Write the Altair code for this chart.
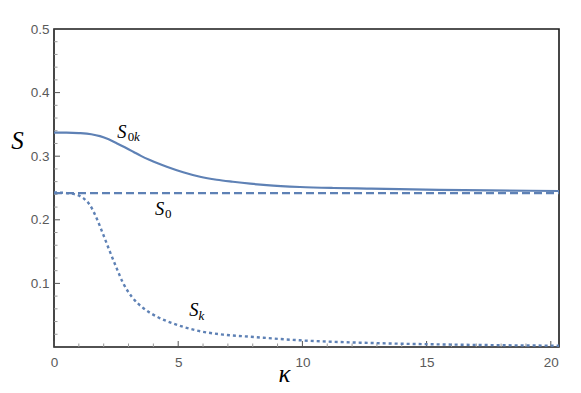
import altair as alt
import pandas as pd

# ---- data ----
k_0k = [0, 0.5, 1.0, 1.5, 1.85, 2.2, 2.52, 2.85, 3.19, 3.5, 3.86, 4.2, 4.54, 5.2, 5.88,
        6.55, 7.2, 7.9, 8.56, 9.9, 11.25, 12.6, 13.9, 15.5, 17.5, 20.33]
s_0k = [0.337, 0.337, 0.3363, 0.3345, 0.3315, 0.3265, 0.3205, 0.314, 0.307, 0.3005, 0.294,
        0.2885, 0.2835, 0.2748, 0.2677, 0.263, 0.2598, 0.2568, 0.2545, 0.2516, 0.2500,
        0.2490, 0.2481, 0.2472, 0.2463, 0.2453]

k_0 = [0, 20.33]
s_0 = [0.242, 0.242]

k_k = [0, 0.5, 0.85, 1.18, 1.45, 1.72, 1.99, 2.25, 2.52, 2.79, 3.13, 3.6, 4.13, 4.8, 5.74,
       6.8, 7.9, 9.9, 12, 13.9, 16, 18, 20.33]
s_k = [0.243, 0.242, 0.240, 0.234, 0.223, 0.202, 0.176, 0.150, 0.124, 0.100, 0.079, 0.061,
       0.048, 0.037, 0.026, 0.0195, 0.0162, 0.0105, 0.0072, 0.0052, 0.0038, 0.0028, 0.002]

x_major = [0, 5, 10, 15, 20]
x_minor = [1, 2, 3, 4, 6, 7, 8, 9, 11, 12, 13, 14, 16, 17, 18, 19]
y_major = [0.1, 0.2, 0.3, 0.4, 0.5]
y_minor = [0.02, 0.04, 0.06, 0.08, 0.12, 0.14, 0.16, 0.18, 0.22, 0.24, 0.26, 0.28,
           0.32, 0.34, 0.36, 0.38, 0.42, 0.44, 0.46, 0.48]

# series labels: main letter, upright subscript, italic subscript (k, S positions)
lab_S_text = ["S", "S", "S"]
lab_S_k = [2.55, 4.07, 5.44]
lab_S_s = [0.328, 0.2075, 0.0487]
lab_up_text = ["0", "0"]
lab_up_k = [2.97, 4.47]
lab_up_s = [0.3244, 0.2028]
lab_it_text = ["k", "k"]
lab_it_k = [3.22, 5.82]
lab_it_s = [0.3244, 0.0425]

W, H = 505, 318
BLUE = "#5E81B5"

xs = alt.Scale(domain=[0, 20.33], nice=False, zero=False)
ys = alt.Scale(domain=[0, 0.5], nice=False, zero=False)

xax = alt.Axis(values=x_major, ticks=False, domain=False, grid=False, labelFontSize=13.5,
               labelColor="#5a5a5a", labelFont="Liberation Sans", labelPadding=8,
               labelFlush=False, title="κ", titleFont="Liberation Serif",
               titleFontStyle="italic", titleFontWeight="normal", titleFontSize=25,
               titleColor="black", titleX=230, titleY=34, titleAlign="center",
               titleBaseline="alphabetic")
yax = alt.Axis(values=y_major, format=".1f", ticks=False, domain=False, grid=False,
               labelFontSize=13.5, labelColor="#5a5a5a", labelFont="Liberation Sans",
               labelPadding=5, labelFlush=False, title="S", titleFont="Liberation Serif",
               titleFontStyle="italic", titleFontWeight="normal", titleFontSize=25,
               titleColor="black", titleAngle=0, titleX=-37, titleY=119,
               titleAlign="center", titleBaseline="alphabetic")

df0k = pd.DataFrame({"k": k_0k, "s": s_0k})
df0 = pd.DataFrame({"k": k_0, "s": s_0})
dfk = pd.DataFrame({"k": k_k, "s": s_k})

l0k = alt.Chart(df0k).mark_line(color=BLUE, strokeWidth=2.2, interpolate="monotone", clip=True).encode(
    x=alt.X("k:Q", scale=xs, axis=xax), y=alt.Y("s:Q", scale=ys, axis=yax))
l0 = alt.Chart(df0).mark_line(color=BLUE, strokeWidth=2.2, strokeDash=[8, 4], clip=True).encode(
    x=alt.X("k:Q", scale=xs), y=alt.Y("s:Q", scale=ys))
lk = alt.Chart(dfk).mark_line(color=BLUE, strokeWidth=2.4, strokeDash=[3, 3],
                              interpolate="monotone", clip=True).encode(
    x=alt.X("k:Q", scale=xs), y=alt.Y("s:Q", scale=ys))

tick_col = "#555555"
xt_major = alt.Chart(pd.DataFrame({"k": x_major})).mark_rule(color=tick_col, strokeWidth=1).encode(
    x=alt.X("k:Q", scale=xs), y=alt.value(H), y2=alt.value(H - 6))
xt_minor = alt.Chart(pd.DataFrame({"k": x_minor})).mark_rule(color="#999999", strokeWidth=1).encode(
    x=alt.X("k:Q", scale=xs), y=alt.value(H), y2=alt.value(H - 3.5))
yt_major = alt.Chart(pd.DataFrame({"s": y_major})).mark_rule(color=tick_col, strokeWidth=1).encode(
    y=alt.Y("s:Q", scale=ys), x=alt.value(0), x2=alt.value(6))
yt_minor = alt.Chart(pd.DataFrame({"s": y_minor})).mark_rule(color="#999999", strokeWidth=1).encode(
    y=alt.Y("s:Q", scale=ys), x=alt.value(0), x2=alt.value(3.5))

tS = alt.Chart(pd.DataFrame({"k": lab_S_k, "s": lab_S_s, "t": lab_S_text})).mark_text(
    font="Liberation Serif", fontStyle="italic", fontSize=18.5, align="left",
    baseline="alphabetic", color="black").encode(
    x=alt.X("k:Q", scale=xs), y=alt.Y("s:Q", scale=ys), text="t:N")
tU = alt.Chart(pd.DataFrame({"k": lab_up_k, "s": lab_up_s, "t": lab_up_text})).mark_text(
    font="Liberation Serif", fontSize=13, align="left", baseline="alphabetic",
    color="black").encode(
    x=alt.X("k:Q", scale=xs), y=alt.Y("s:Q", scale=ys), text="t:N")
tI = alt.Chart(pd.DataFrame({"k": lab_it_k, "s": lab_it_s, "t": lab_it_text})).mark_text(
    font="Liberation Serif", fontStyle="italic", fontSize=13, align="left",
    baseline="alphabetic", color="black").encode(
    x=alt.X("k:Q", scale=xs), y=alt.Y("s:Q", scale=ys), text="t:N")

chart = alt.layer(
    xt_minor, xt_major, yt_minor, yt_major, l0, lk, l0k, tS, tU, tI
).properties(
    width=W, height=H,
    background="white",
    autosize=alt.AutoSizeParams(type="none"),
    padding={"left": 46, "top": 21, "right": 14, "bottom": 38},
).configure_view(
    stroke="#1a1a1a", strokeWidth=1.6
)

chart.save("out.html", embed_options={"renderer": "svg", "actions": False})
